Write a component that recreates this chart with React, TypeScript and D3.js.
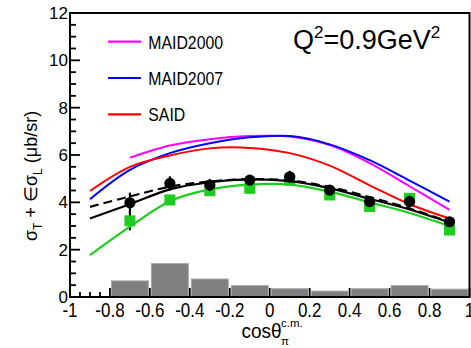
import React from "react";
import * as d3 from "d3";

const W = 471;
const H = 348;

// ---- data ----
const curveX = [-0.9, -0.7, -0.5, -0.3, -0.1, 0.1, 0.3, 0.5, 0.7, 0.9];
const maid2000X = [-0.7, -0.5, -0.3, -0.1, 0.1, 0.3, 0.5, 0.7, 0.9];
const maid2000 = [5.89, 6.4, 6.67, 6.8, 6.78, 6.42, 5.66, 4.68, 3.68];
const maid2007 = [4.13, 5.37, 6.08, 6.5, 6.75, 6.8, 6.45, 5.78, 4.92, 4.03];
const said = [4.48, 5.5, 5.98, 6.28, 6.3, 6.08, 5.55, 4.72, 3.92, 3.32];
const fitGreen = [1.77, 2.97, 4.05, 4.55, 4.75, 4.75, 4.45, 4.0, 3.55, 3.0];
const fitBlack = [3.32, 3.92, 4.55, 4.85, 4.97, 4.9, 4.6, 4.15, 3.7, 3.15];
const fitDashed = [3.81, 4.25, 4.66, 4.88, 4.98, 4.92, 4.65, 4.22, 3.74, 3.17];

const pointX = [-0.7, -0.5, -0.3, -0.1, 0.1, 0.3, 0.5, 0.7, 0.9];
const circleY = [3.98, 4.8, 4.73, 4.94, 5.08, 4.52, 4.03, 4.03, 3.18];
const circleErr = [0.43, 0.3, 0.25, 0.2, 0.25, 0.2, 0.2, 0.25, 0.2];
const squareY = [3.22, 4.1, 4.49, 4.59, 4.94, 4.31, 3.82, 4.17, 2.83];
const squareErr = [0.4, 0.2, 0.15, 0.15, 0.15, 0.15, 0.15, 0.15, 0.15];

const binEdges = [-0.8, -0.6, -0.4, -0.2, 0.0, 0.2, 0.4, 0.6, 0.8, 1.0];
const binValues = [0.68, 1.41, 0.76, 0.48, 0.35, 0.25, 0.35, 0.48, 0.33];

const yTicks = [0, 2, 4, 6, 8, 10, 12];
const xTicks = [-1, -0.8, -0.6, -0.4, -0.2, 0, 0.2, 0.4, 0.6, 0.8, 1];
const xTickLabels = ["-1", "-0.8", "-0.6", "-0.4", "-0.2", "0", "0.2", "0.4", "0.6", "0.8", "1"];

const legendNames = ["MAID2000", "MAID2007", "SAID"];
const legendColors = ["#ff00ff", "#0000ff", "#ff0000"];

const GREEN = "#1ecc1e";

export default function App() {
  const x = d3.scaleLinear().domain([-1, 1]).range([70, 469.5]);
  const y = d3.scaleLinear().domain([0, 12]).range([297, 13]);

  const line = (xs: number[], ys: number[]) =>
    d3
      .line<number>()
      .x((_, i) => x(xs[i]))
      .y((v) => y(v))
      .curve(d3.curveCatmullRom.alpha(0.5))(ys) as string;

  const yMinor = d3.range(0, 12.01, 0.5);
  const xMinor = d3.range(-1, 1.001, 0.05);

  const font = "'Liberation Sans', Arial, Helvetica, sans-serif";

  return (
    <svg
      width={W}
      height={H}
      style={{ position: "absolute", left: 0, top: 0, background: "#fff" }}
      fontFamily={font}
    >
      {/* ticks */}
      {yMinor.map((v, i) => {
        const major = Math.abs(v % 2) < 1e-6;
        return (
          <line key={"ym" + i} x1={x(-1)} x2={x(-1) + (major ? 10 : 6)} y1={y(v)} y2={y(v)} stroke="#000" strokeWidth={1.8} />
        );
      })}
      {xMinor.map((v, i) => {
        const major = Math.abs(Math.round(v * 10) % 2) < 1e-6 && Math.abs(v * 10 - Math.round(v * 10)) < 1e-6;
        return (
          <line key={"xm" + i} x1={x(v)} x2={x(v)} y1={y(0)} y2={y(0) - (major ? 9 : 5)} stroke="#000" strokeWidth={1.8} />
        );
      })}

      {/* histogram */}
      {binValues.map((v, i) => (
        <rect
          key={"b" + i}
          x={x(binEdges[i]) + 1.5}
          y={y(v)}
          width={x(binEdges[i + 1]) - x(binEdges[i]) - 3}
          height={y(0) - y(v)}
          fill="#7f7f7f"
          stroke="#a8a8a8"
          strokeWidth={1}
        />
      ))}

      {/* green squares with error bars */}
      {pointX.map((px, i) => (
        <g key={"s" + i}>
          <line x1={x(px)} x2={x(px)} y1={y(squareY[i] - squareErr[i])} y2={y(squareY[i] + squareErr[i])} stroke="#000" strokeWidth={2.2} />
          <rect x={x(px) - 5.5} y={y(squareY[i]) - 5.5} width={11} height={11} fill={GREEN} />
        </g>
      ))}

      {/* model curves */}
      <path d={line(maid2000X, maid2000)} fill="none" stroke="#ff00ff" strokeWidth={2} />
      <path d={line(curveX, maid2007)} fill="none" stroke="#0000ff" strokeWidth={2} />
      <path d={line(curveX, said)} fill="none" stroke="#ff0000" strokeWidth={2} />
      <path d={line(curveX, fitGreen)} fill="none" stroke={GREEN} strokeWidth={2.2} />
      <path d={line(curveX, fitBlack)} fill="none" stroke="#000" strokeWidth={2.2} />
      <path d={line(curveX, fitDashed)} fill="none" stroke="#000" strokeWidth={2.2} strokeDasharray="9,5" />

      {/* black circles with error bars */}
      {pointX.map((px, i) => (
        <g key={"c" + i}>
          <line x1={x(px)} x2={x(px)} y1={y(circleY[i] - circleErr[i])} y2={y(circleY[i] + circleErr[i])} stroke="#000" strokeWidth={2.2} />
          <circle cx={x(px)} cy={y(circleY[i])} r={5.6} fill="#000" />
        </g>
      ))}

      {/* frame */}
      <rect x={x(-1)} y={y(12)} width={x(1) - x(-1)} height={y(0) - y(12)} fill="none" stroke="#000" strokeWidth={2} />

      {/* y tick labels */}
      {yTicks.map((v) => (
        <text key={"yl" + v} x={68} y={y(v) + 6} fontSize={17} textAnchor="end" fill="#000">
          {v}
        </text>
      ))}
      {/* x tick labels */}
      {xTicks.map((v, i) => (
        <text
          key={"xl" + i}
          transform={`translate(${x(v)},317) scale(0.85,1)`}
          fontSize={20}
          textAnchor="middle"
          fill="#000"
        >
          {xTickLabels[i]}
        </text>
      ))}

      {/* x title */}
      <text transform="translate(241.5,338) scale(0.95,1)" fontSize={20} fill="#000">
        cosθ
      </text>
      <text x={281} y={327} fontSize={11.5} fill="#000">
        c.m.
      </text>
      <text x={281} y={345} fontSize={11.5} fill="#000">
        π
      </text>

      {/* y title */}
      <text transform="translate(37,241) rotate(-90)" fontSize={18} fill="#000">
        <tspan>σ</tspan>
        <tspan fontSize={12} dy={5}>T</tspan>
        <tspan dy={-5}>{" + ∈σ"}</tspan>
        <tspan fontSize={12} dy={5}>L</tspan>
        <tspan dy={-5}>{"  (μb/sr)"}</tspan>
      </text>

      {/* legend */}
      {legendNames.map((n, i) => {
        const ly = 41.7 + i * 36.3;
        return (
          <g key={"lg" + i}>
            <line x1={108} x2={141} y1={ly} y2={ly} stroke={legendColors[i]} strokeWidth={2.2} />
            <text transform={`translate(148.3,${ly + 6.8}) scale(0.88,1)`} fontSize={18} fill="#000">
              {n}
            </text>
          </g>
        );
      })}

      {/* Q^2 label */}
      <text x={293} y={49} fontSize={27} fill="#000">
        Q<tspan fontSize={17} dy={-11}>2</tspan>
        <tspan dy={11}>=0.9GeV</tspan>
        <tspan fontSize={17} dy={-11}>2</tspan>
      </text>
    </svg>
  );
}
